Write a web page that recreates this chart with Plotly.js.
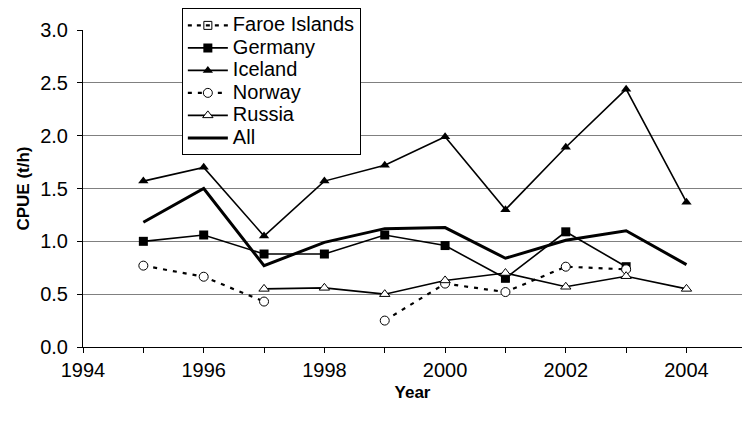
<!DOCTYPE html>
<html>
<head>
<meta charset="utf-8">
<script src="https://cdn.plot.ly/plotly-3.0.1.min.js"></script>
<style>html,body{margin:0;padding:0;background:#fff;}#chart{width:742px;height:425px;}</style>
</head>
<body>
<div id="chart"></div>
<script>
const years = [1995, 1996, 1997, 1998, 1999, 2000, 2001, 2002, 2003, 2004];
const seriesNames = ['Faroe Islands', 'Germany', 'Iceland', 'Norway', 'Russia', 'All'];
const faroe   = [null, null, null, null, null, null, null, null, null, null];
const germany = [1.00, 1.06, 0.88, 0.88, 1.06, 0.96, 0.65, 1.09, 0.76, null];
const iceland = [1.57, 1.70, 1.05, 1.57, 1.72, 1.99, 1.30, 1.89, 2.44, 1.37];
const norway  = [0.77, 0.665, 0.43, null, 0.25, 0.60, 0.52, 0.76, 0.735, null];
const russia  = [null, null, 0.55, 0.56, 0.50, 0.63, 0.70, 0.57, 0.67, 0.55];
const all     = [1.18, 1.50, 0.77, 0.99, 1.12, 1.13, 0.84, 1.01, 1.10, 0.78];

const xTickVals = [1994, 1995, 1996, 1997, 1998, 1999, 2000, 2001, 2002, 2003, 2004];
const xTickText = ['1994', '', '1996', '', '1998', '', '2000', '', '2002', '', '2004'];
const yTickVals = [0, 0.5, 1.0, 1.5, 2.0, 2.5, 3.0];
const yTickText = ['0.0', '0.5', '1.0', '1.5', '2.0', '2.5', '3.0'];

const FONT = 'Liberation Sans, Arial, sans-serif';
const legName = n => '<span style="font-size:20px">' + n + '</span>';

const traces = [
  {name: legName(seriesNames[0]), x: years, y: faroe, mode: 'lines+markers',
   line: {color: '#000', width: 2.2, dash: '4px,5px'},
   marker: {symbol: 'square-open', size: 8, color: '#000', line: {width: 1}}},
  {name: legName(seriesNames[1]), x: years, y: germany, mode: 'lines+markers',
   line: {color: '#000', width: 1.6},
   marker: {symbol: 'square', size: 9, color: '#000'}},
  {name: legName(seriesNames[2]), x: years, y: iceland, mode: 'lines+markers',
   line: {color: '#000', width: 1.6},
   marker: {symbol: 'triangle-up', size: 9, color: '#000'}},
  {name: legName(seriesNames[3]), x: years, y: norway, mode: 'lines+markers', connectgaps: false,
   line: {color: '#000', width: 2.2, dash: '4px,6px'},
   marker: {symbol: 'circle', size: 9, color: '#fff', line: {color: '#000', width: 1}}},
  {name: legName(seriesNames[4]), x: years, y: russia, mode: 'lines+markers',
   line: {color: '#000', width: 1.6},
   marker: {symbol: 'triangle-up', size: 9, color: '#fff', line: {color: '#000', width: 1}}},
  {name: legName(seriesNames[5]), x: years, y: all, mode: 'lines',
   line: {color: '#000', width: 3}}
];

const layout = {
  width: 742, height: 425,
  margin: {l: 83, r: 0, t: 30, b: 78, pad: 0},
  paper_bgcolor: '#fff', plot_bgcolor: '#fff',
  font: {family: FONT, color: '#000', size: 20},
  showlegend: true,
  legend: {
    x: 0.150, y: 1.069, xanchor: 'left', yanchor: 'top',
    bgcolor: '#fff', bordercolor: '#000', borderwidth: 1,
    font: {family: FONT, size: 15, color: '#000'},
    itemwidth: 40,
    tracegroupgap: 0
  },
  xaxis: {
    range: [1994, 2004.92],
    tickmode: 'array', tickvals: xTickVals, ticktext: xTickText,
    ticks: 'outside', ticklen: 5, tickwidth: 1, tickcolor: '#000',
    showline: true, linecolor: '#000', linewidth: 1,
    showgrid: false, zeroline: false,
    tickfont: {family: FONT, size: 20, color: '#000'},
    title: {text: '<b>Year</b>', font: {family: FONT, size: 17, color: '#000'}, standoff: 6}
  },
  yaxis: {
    range: [0, 3.0],
    tickmode: 'array', tickvals: yTickVals, ticktext: yTickText,
    ticks: 'outside', ticklen: 5, tickwidth: 1, tickcolor: '#000',
    showline: true, linecolor: '#000', linewidth: 1,
    showgrid: true, gridcolor: '#808080', gridwidth: 1,
    zeroline: false,
    ticklabelstandoff: 5,
    tickfont: {family: FONT, size: 20, color: '#000'},
    title: {text: '<b>CPUE (t/h)</b>', font: {family: FONT, size: 17, color: '#000'}, standoff: 6}
  }
};

Plotly.newPlot('chart', traces, layout, {displayModeBar: false, staticPlot: true});
</script>
</body>
</html>
